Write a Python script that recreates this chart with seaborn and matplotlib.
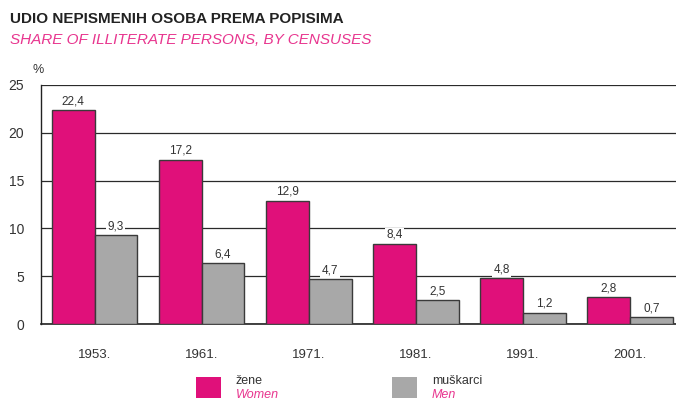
import matplotlib
matplotlib.use("Agg")
import matplotlib.pyplot as plt
import seaborn as sns
import pandas as pd
from matplotlib.patches import Rectangle

years = ["1953.", "1961.", "1971.", "1981.", "1991.", "2001."]
women = [22.4, 17.2, 12.9, 8.4, 4.8, 2.8]
men = [9.3, 6.4, 4.7, 2.5, 1.2, 0.7]
series_hr = ["žene", "muškarci"]
series_en = ["Women", "Men"]
yticks = [0, 5, 10, 15, 20, 25]

PINK = "#E0107A"
GRAY = "#A8A8A8"
TXT_PINK = "#E8368F"
EDGE = "#3a3a3a"

sns.set_theme(style="white")
plt.rcParams["font.family"] = ["Liberation Sans", "DejaVu Sans"]

df = pd.DataFrame({
    "year": years * 2,
    "value": women + men,
    "sex": [series_hr[0]] * len(years) + [series_hr[1]] * len(years),
})

fig = plt.figure(figsize=(6.76, 4.0), dpi=100)
ax = fig.add_axes([41 / 676, 1 - 324 / 400, 1 - 41 / 676, (324 - 85) / 400])

sns.barplot(data=df, x="year", y="value", hue="sex", order=years,
            hue_order=series_hr, palette=[PINK, GRAY], width=0.8,
            edgecolor=EDGE, linewidth=1.0, saturation=1, legend=False, ax=ax, zorder=3)

for cont in ax.containers:
    ax.bar_label(cont, labels=[f"{v:.1f}".replace(".", ",") for v in cont.datavalues],
                 padding=2, fontsize=8.5, color="#333333")
for t in ax.texts:
    t.set_bbox(dict(facecolor="white", edgecolor="none", pad=1))
    t.set_zorder(4)

ax.set_ylim(0, 25)
ax.set_xlim(-0.5, 5.43)
ax.set_yticks(yticks)
ax.yaxis.grid(True, color="#2a2a2a", linewidth=0.9)
ax.set_axisbelow(True)
for s in ["top", "right"]:
    ax.spines[s].set_visible(False)
ax.spines["left"].set_color("#222222")
ax.spines["bottom"].set_color("#222222")
ax.spines["left"].set_linewidth(1.0)
ax.spines["bottom"].set_linewidth(1.2)
ax.set_xlabel("")
ax.set_ylabel("")
ax.tick_params(axis="y", labelsize=10, colors="#333333", pad=12, length=0)
ax.tick_params(axis="x", labelsize=9.5, colors="#333333", pad=18, length=0)

fig.text(38 / 676, 1 - 70 / 400, "%", fontsize=9, color="#333333", ha="center", va="center")
fig.text(10 / 676, 1 - 19 / 400, "UDIO NEPISMENIH OSOBA PREMA POPISIMA", fontsize=11,
         fontweight="bold", color="#222222", ha="left", va="center")
fig.text(10 / 676, 1 - 40 / 400, "SHARE OF ILLITERATE PERSONS, BY CENSUSES", fontsize=11,
         style="italic", color=TXT_PINK, ha="left", va="center")

# legend
for x0, col, hr, en in [(196, PINK, series_hr[0], series_en[0]), (392, GRAY, series_hr[1], series_en[1])]:
    fig.patches.append(Rectangle((x0 / 676, 1 - 398 / 400), 25 / 676, 21 / 400,
                                 transform=fig.transFigure, facecolor=col, edgecolor="none"))
    fig.text((x0 + 40) / 676, 1 - 381 / 400, hr, fontsize=9, color="#333333", ha="left", va="center")
    fig.text((x0 + 40) / 676, 1 - 395 / 400, en, fontsize=9, style="italic", color=TXT_PINK,
             ha="left", va="center")

fig.savefig("out.png", dpi=100)
